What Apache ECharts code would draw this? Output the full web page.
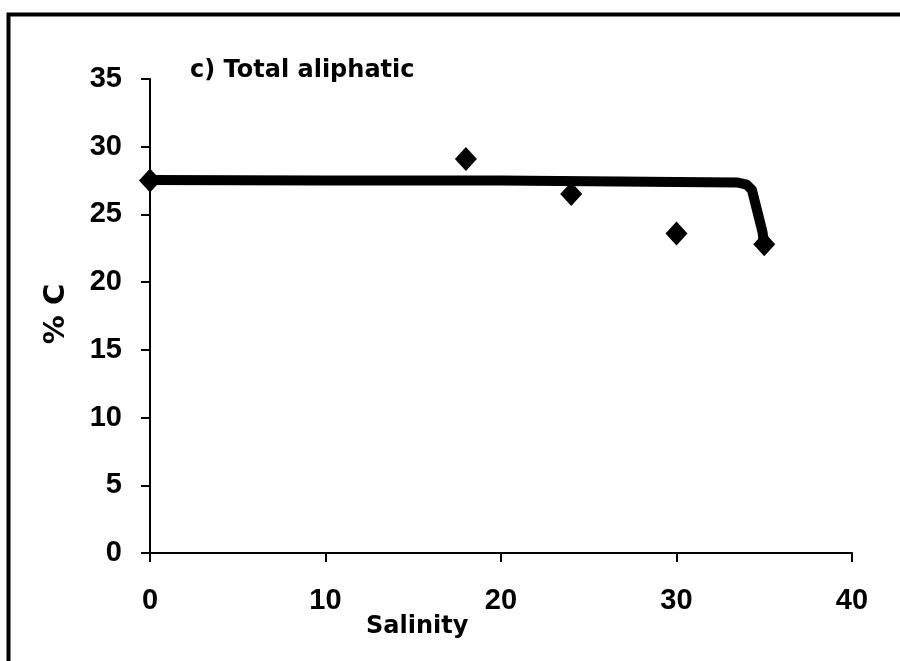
<!DOCTYPE html>
<html>
<head>
<meta charset="utf-8">
<script src="https://cdn.jsdelivr.net/npm/echarts@6/dist/echarts.min.js"></script>
<style>
html,body{margin:0;padding:0;background:#fff;}
#chart{width:900px;height:661px;}
</style>
</head>
<body>
<div id="chart"></div>
<script>
// Observed data points (Salinity, %C)
var salinity = [0, 18, 24, 30, 35];
var percentC = [27.5, 29.1, 26.5, 23.6, 22.8];
// Fitted mixing curve
var fitSalinity = [0, 10, 20, 30, 33.5, 34.0, 34.3, 34.9, 35];
var fitPercentC = [27.55, 27.5, 27.5, 27.4, 27.35, 27.2, 26.8, 23.7, 22.8];
// Axis ticks
var xTicks = [0, 10, 20, 30, 40];
var yTicks = [0, 5, 10, 15, 20, 25, 30, 35];
var titleText = 'c) Total aliphatic';
var xName = 'Salinity';
var yName = '% C';

var chart = echarts.init(document.getElementById('chart'), null, {renderer: 'canvas'});
var scatterData = salinity.map(function (s, i) { return [s, percentC[i]]; });
var fitData = fitSalinity.map(function (s, i) { return [s, fitPercentC[i]]; });
var tickFont = {color: '#000', fontFamily: '"Liberation Sans", Arial, sans-serif', fontWeight: 'bold', fontSize: 29};

chart.setOption({
  backgroundColor: '#fff',
  animation: false,
  grid: {left: 150, right: 48, top: 79, bottom: 108, containLabel: false},
  xAxis: {
    type: 'value', min: xTicks[0], max: xTicks[xTicks.length - 1], interval: 10,
    axisLine: {show: true, onZero: false, lineStyle: {color: '#000', width: 2}},
    axisTick: {show: true, inside: false, length: 9, lineStyle: {color: '#000', width: 2}},
    axisLabel: Object.assign({margin: 33}, tickFont),
    splitLine: {show: false}
  },
  yAxis: {
    type: 'value', min: yTicks[0], max: yTicks[yTicks.length - 1], interval: 5,
    axisLine: {show: true, onZero: false, lineStyle: {color: '#000', width: 2}},
    axisTick: {show: true, inside: false, length: 9, lineStyle: {color: '#000', width: 2}},
    axisLabel: Object.assign({margin: 28}, tickFont),
    splitLine: {show: false}
  },
  graphic: [
    {type: 'rect', shape: {x: 8.5, y: 14.5, width: 1000, height: 1000},
     style: {fill: 'none', stroke: '#000', lineWidth: 4}, z: 100},
    {type: 'text', left: 190, top: 59,
     style: {text: titleText, fill: '#000', font: 'bold 24px "DejaVu Sans", sans-serif'}},
    {type: 'text', left: 366, top: 615,
     style: {text: xName, fill: '#000', font: 'bold 24px "DejaVu Sans", sans-serif'}},
    {type: 'text', x: 56, y: 314, rotation: Math.PI / 2,
     style: {text: yName, fill: '#000', font: 'bold 29px "DejaVu Sans", sans-serif', align: 'center', verticalAlign: 'middle'}}
  ],
  series: [
    {
      type: 'line', data: fitData, showSymbol: false, symbol: 'none', smooth: false,
      lineStyle: {color: '#000', width: 10, cap: 'round', join: 'round'}, z: 2
    },
    {
      type: 'scatter', data: scatterData, symbol: 'diamond', symbolSize: [22, 24],
      itemStyle: {color: '#000', opacity: 1}, clip: false, z: 3
    }
  ]
});
</script>
</body>
</html>
